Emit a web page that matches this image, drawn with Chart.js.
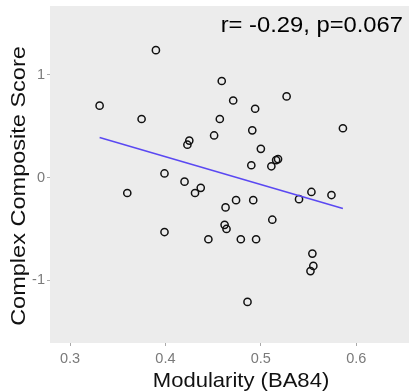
<!DOCTYPE html>
<html>
<head>
<meta charset="utf-8">
<script src="https://cdn.jsdelivr.net/npm/chart.js@4/dist/chart.umd.min.js"></script>
<style>
  html, body { margin: 0; padding: 0; background: #fff; }
  #wrap { width: 409px; height: 391px; }
</style>
</head>
<body>
<div id="wrap"><canvas id="scatterChart" width="409" height="391"></canvas></div>
<script>
// values
const modularity = [0.390, 0.331, 0.375, 0.459, 0.471, 0.527, 0.494, 0.457, 0.586, 0.491,
  0.451, 0.425, 0.423, 0.500, 0.518, 0.516, 0.490, 0.511, 0.399, 0.420,
  0.360, 0.431, 0.437, 0.553, 0.574, 0.540, 0.492, 0.474, 0.463, 0.512,
  0.462, 0.464, 0.399, 0.445, 0.479, 0.495, 0.554, 0.555, 0.552, 0.486];
const compositeScore = [1.24, 0.70, 0.57, 0.94, 0.75, 0.79, 0.67, 0.57, 0.48, 0.46,
  0.41, 0.36, 0.32, 0.28, 0.18, 0.17, 0.12, 0.11, 0.04, -0.04,
  -0.15, -0.15, -0.10, -0.14, -0.17, -0.21, -0.22, -0.22, -0.29, -0.41,
  -0.46, -0.50, -0.53, -0.60, -0.60, -0.60, -0.74, -0.86, -0.91, -1.21];
const fitX = [0.331, 0.586];
const fitY = [0.39, -0.30];
const xTicks = [0.3, 0.4, 0.5, 0.6];
const yTicks = [-1, 0, 1];
const statLabel = "r= -0.29, p=0.067";
const xTitle = "Modularity (BA84)";
const yTitle = "Complex Composite Score";

const FONT = "'Liberation Sans', Arial, Helvetica, sans-serif";

const decorations = {
  id: "decorations",
  beforeDraw(chart) {
    const { ctx, chartArea: a } = chart;
    ctx.save();
    ctx.fillStyle = "#ececec";
    ctx.fillRect(a.left, a.top, chart.width - a.left, a.bottom - a.top);
    ctx.restore();
  },
  afterDraw(chart) {
    const { ctx } = chart;
    ctx.save();
    ctx.fillStyle = "#000";
    ctx.textBaseline = "alphabetic";

    // stat label, top right
    ctx.font = "22px " + FONT;
    ctx.textAlign = "right";
    ctx.save();
    ctx.translate(chart.width - 6, 32);
    ctx.scale(1.08, 1);
    ctx.fillText(statLabel, 0, 0);
    ctx.restore();

    // axis titles
    ctx.fillStyle = "#111";
    ctx.font = "21px " + FONT;
    ctx.textAlign = "center";
    ctx.save();
    ctx.translate(241, 387);
    ctx.scale(1.05, 1);
    ctx.fillText(xTitle, 0, 0);
    ctx.restore();

    ctx.save();
    ctx.translate(25, 186);
    ctx.rotate(-Math.PI / 2);
    ctx.scale(1.12, 1);
    ctx.fillText(yTitle, 0, 0);
    ctx.restore();

    ctx.restore();
  }
};

const ctx = document.getElementById("scatterChart");
new Chart(ctx, {
  type: "scatter",
  data: {
    datasets: [
      {
        label: "fit",
        type: "line",
        data: fitX.map((x, i) => ({ x: x, y: fitY[i] })),
        borderColor: "#5a48f2",
        borderWidth: 1.5,
        pointRadius: 0,
        fill: false,
      },
      {
        label: "subjects",
        data: modularity.map((x, i) => ({ x: x, y: compositeScore[i] })),
        pointRadius: 3.6,
        pointBorderWidth: 1.5,
        borderColor: "#111",
        backgroundColor: "rgba(0,0,0,0)",
      },
    ],
  },
  plugins: [decorations],
  options: {
    responsive: false,
    animation: false,
    layout: { padding: { top: 6, right: 0, left: 0, bottom: 0 } },
    plugins: {
      legend: { display: false },
      tooltip: { enabled: false },
    },
    scales: {
      x: {
        type: "linear",
        min: 0.279,
        max: 0.6495,
        afterBuildTicks: (s) => { s.ticks = xTicks.map((v) => ({ value: v })); },
        afterFit: (s) => { s.height = 48; s.paddingLeft = 0; s.paddingRight = 0; },
        border: { display: false },
        grid: { drawOnChartArea: false, tickLength: 3, color: "#aaa" },
        ticks: {
          color: "#7a7a7a",
          font: { family: FONT, size: 14.5 },
          padding: 4,
          maxRotation: 0,
          callback: (v) => v.toFixed(1),
        },
      },
      y: {
        min: -1.61,
        max: 1.67,
        afterBuildTicks: (s) => { s.ticks = yTicks.map((v) => ({ value: v })); },
        afterFit: (s) => { s.width = 50; s.paddingTop = 0; s.paddingBottom = 0; },
        border: { display: false },
        grid: { drawOnChartArea: false, tickLength: 3, color: "#aaa" },
        ticks: {
          color: "#7a7a7a",
          font: { family: FONT, size: 14.5 },
          padding: 2,
          callback: (v) => String(v),
        },
      },
    },
  },
});
</script>
</body>
</html>
